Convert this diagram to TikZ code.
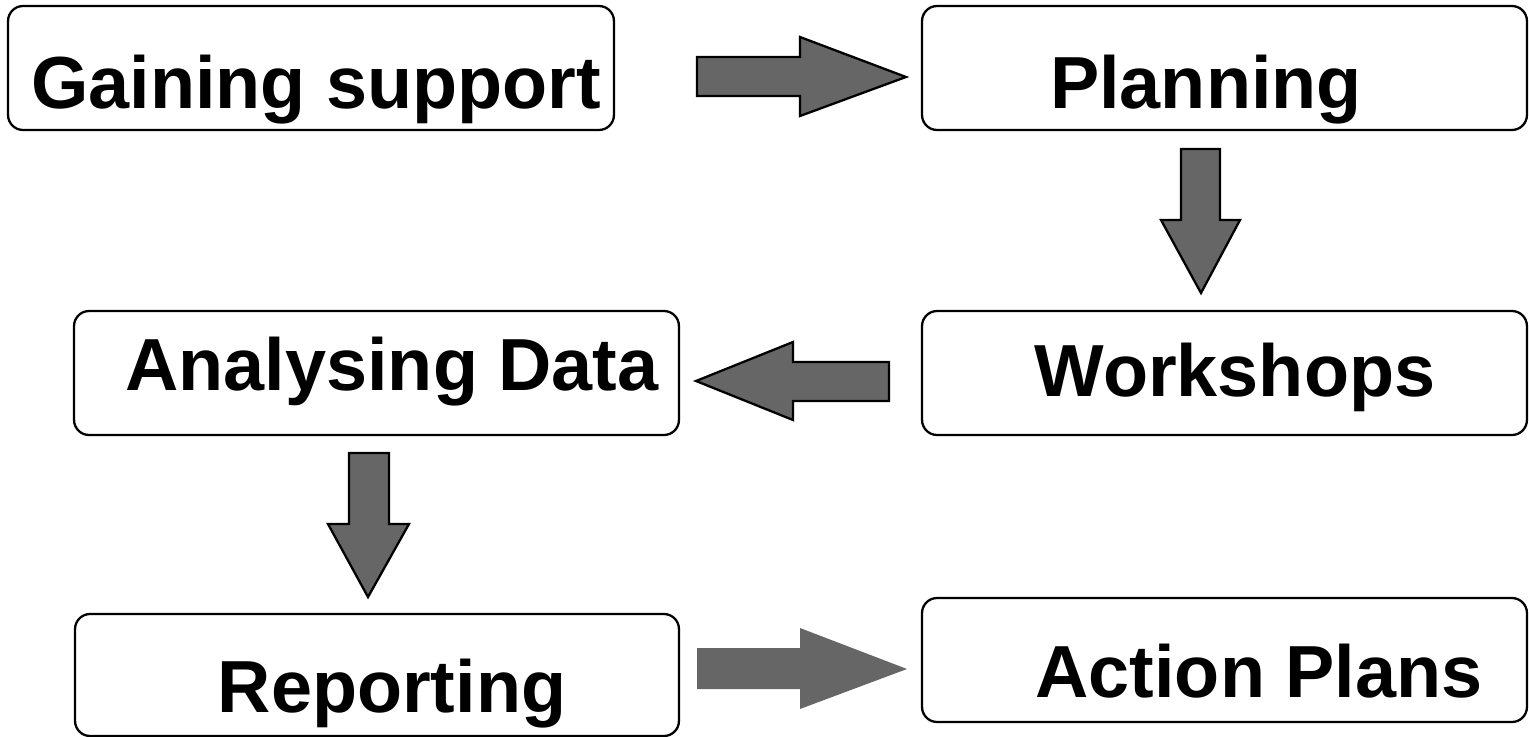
\documentclass[tikz,border=0pt]{standalone}
\usepackage{fontspec}
\setmainfont{Liberation Sans}
\begin{document}
\begin{tikzpicture}[x=0.02cm,y=-0.02cm,
  box/.style={draw=black,line width=1.3pt,rounded corners=0.3cm,inner sep=0pt,minimum width=12.1cm,minimum height=2.48cm,fill=white},
  lbl/.style={anchor=base,inner sep=0pt,font=\fontsize{42}{50}\selectfont\bfseries},
  blockarrow/.style={fill=arrowgray,draw=black,line width=1.3pt,line join=miter},
  blockarrowflat/.style={fill=arrowgray,draw=none}]
\definecolor{arrowgray}{HTML}{666666}
\useasboundingbox (0,0) rectangle (1529,737);
% boxes
\node[box,minimum width=12.12cm] (gain) at (311,68) {};
\node[box] (plan) at (1224.5,68) {};
\node[box] (anal) at (376.5,373) {};
\node[box] (work) at (1224.5,373) {};
\node[box,minimum width=12.08cm,minimum height=2.44cm] (rep) at (377,675) {};
\node[box] (act) at (1224.5,660) {};
% labels
\node[lbl] (tgain) at (316,108) {Gaining support};
\node[lbl] (tplan) at (1206,108) {Planning};
\node[lbl] (tanal) at (392,390) {Analysing Data};
\node[lbl] (twork) at (1235,396) {Workshops};
\node[lbl] (trep) at (392,712) {Reporting};
\node[lbl] (tact) at (1259,697) {Action Plans};
% block arrows
\draw[blockarrow] (697,57) -- (800,57) -- (800,37) -- (906,77) -- (800,116) -- (800,96) -- (697,96) -- cycle;
\draw[blockarrow] (1181,149) -- (1220,149) -- (1220,220) -- (1240,220) -- (1201,293) -- (1161,220) -- (1181,220) -- cycle;
\draw[blockarrow] (889,362) -- (793,362) -- (793,342) -- (696,381) -- (793,420) -- (793,401) -- (889,401) -- cycle;
\draw[blockarrow] (349,453) -- (389,453) -- (389,524) -- (409,524) -- (368,597) -- (328,524) -- (349,524) -- cycle;
\fill[blockarrowflat] (697,648) -- (800,648) -- (800,628) -- (907,669) -- (800,709) -- (800,689) -- (697,689) -- cycle;
\end{tikzpicture}
\end{document}
